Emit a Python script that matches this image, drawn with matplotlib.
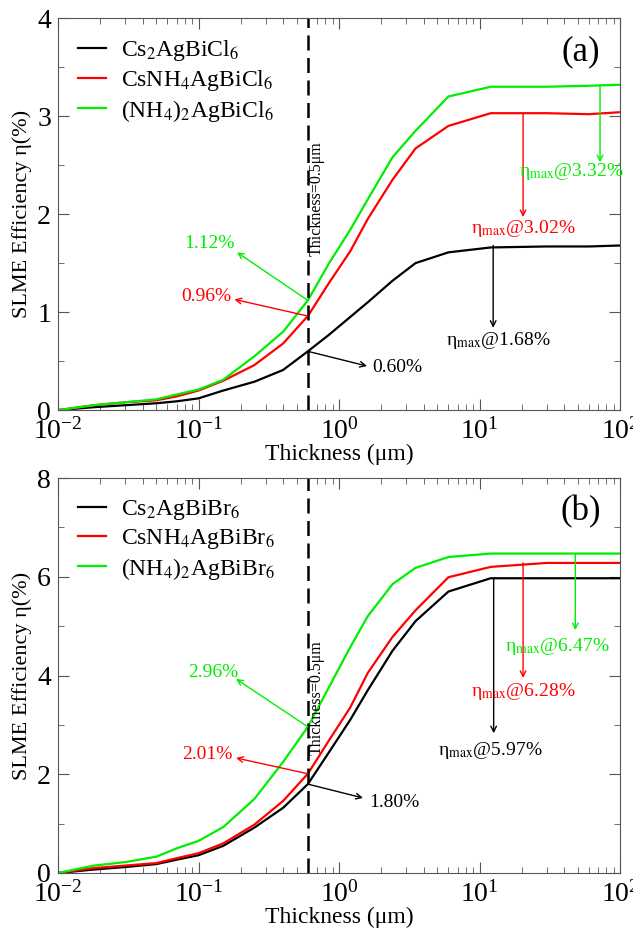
import matplotlib
matplotlib.use("Agg")
import matplotlib.pyplot as plt
from matplotlib.ticker import MultipleLocator, LogLocator, NullFormatter

plt.rcParams['font.family'] = ['Liberation Serif', 'DejaVu Serif']
plt.rcParams['mathtext.fontset'] = 'stix'

# thickness (um), same grid for every curve
thick = [0.01, 0.018, 0.03, 0.05, 0.07, 0.1, 0.15, 0.25, 0.4, 0.6,
         0.85, 1.2, 1.6, 2.4, 3.5, 6, 12, 30, 60, 100]

# panel (a): chlorides
cl_names = ['Cs$_2$AgBiCl$_6$', 'CsNH$_4$AgBiCl$_6$', '(NH$_4$)$_2$AgBiCl$_6$']
cl_cs = [0, 0.03, 0.05, 0.07, 0.09, 0.12, 0.2, 0.29, 0.41, 0.60,
         0.77, 0.95, 1.1, 1.32, 1.5, 1.61, 1.66, 1.67, 1.67, 1.68]
cl_mix = [0, 0.05, 0.08, 0.1, 0.14, 0.2, 0.3, 0.46, 0.68, 0.96,
          1.30, 1.62, 1.95, 2.35, 2.67, 2.9, 3.03, 3.03, 3.02, 3.04]
cl_nh4 = [0, 0.05, 0.08, 0.11, 0.16, 0.21, 0.31, 0.55, 0.8, 1.12,
          1.5, 1.84, 2.15, 2.58, 2.85, 3.2, 3.30, 3.30, 3.31, 3.32]

# panel (b): bromides
br_names = ['Cs$_2$AgBiBr$_6$', 'CsNH$_4$AgBiBr$_6$', '(NH$_4$)$_2$AgBiBr$_6$']
br_cs = [0, 0.07, 0.12, 0.18, 0.27, 0.36, 0.55, 0.92, 1.32, 1.80,
         2.45, 3.1, 3.7, 4.5, 5.1, 5.7, 5.97, 5.97, 5.97, 5.97]
br_mix = [0, 0.1, 0.15, 0.2, 0.3, 0.4, 0.6, 0.98, 1.46, 2.01,
          2.69, 3.35, 4.05, 4.78, 5.32, 5.99, 6.2, 6.28, 6.28, 6.28]
br_nh4 = [0, 0.15, 0.22, 0.33, 0.5, 0.65, 0.93, 1.5, 2.25, 2.96,
          3.77, 4.57, 5.2, 5.85, 6.18, 6.4, 6.47, 6.47, 6.47, 6.47]

colors = ['black', 'red', '#00ee00']
cut = 0.6


def draw_panel(ax, series, names, ymax, ystep, tag, cut_vals, cut_text, cut_head,
               max_vals, max_x, max_head, max_text, cs_text, cs_head, vtext_y):
	for y, c, n in zip(series, colors, names):
		ax.plot(thick, y, color=c, lw=1.6, label=n)
	ax.axvline(cut, color='black', ls=(0, (6, 3)), lw=1.8)
	ax.text(0.69, vtext_y, 'Thickness=0.5μm', rotation=90, fontsize=11.5,
	        ha='center', va='center')

	# arrows to the values at the cut
	for i in (2, 1):
		ax.annotate('', xy=cut_head[i], xytext=(cut, cut_vals[i]),
		            arrowprops=dict(arrowstyle='->', color=colors[i], lw=1,
		                            shrinkA=0, shrinkB=0))
		ax.text(cut_text[i][0], cut_text[i][1], '%.2f%%' % cut_vals[i],
		        color=colors[i], fontsize=14, ha='center', va='center')
	ax.annotate('', xy=cs_head, xytext=(cut, cut_vals[0]),
	            arrowprops=dict(arrowstyle='->', color='black', lw=1,
	                            shrinkA=0, shrinkB=0))
	ax.text(cs_text[0], cs_text[1], '%.2f%%' % cut_vals[0], fontsize=14,
	        ha='left', va='center')

	# eta max arrows
	for i in range(3):
		ax.annotate('', xy=(max_x[i], max_head[i]), xytext=(max_x[i], max_vals[i]),
		            arrowprops=dict(arrowstyle='->', color=colors[i], lw=1,
		                            shrinkA=0, shrinkB=0))
		ax.text(max_text[i][0], max_text[i][1],
		        'η$_{\\rm max}$@%.2f%%' % max_vals[i], color=colors[i],
		        fontsize=14, ha='center', va='center')

	ax.set_xscale('log')
	ax.set_xlim(0.01, 100)
	ax.set_ylim(0, ymax)
	ax.yaxis.set_major_locator(MultipleLocator(ystep))
	ax.yaxis.set_minor_locator(MultipleLocator(ystep / 2))
	ax.xaxis.set_major_locator(LogLocator(base=10, numticks=10))
	ax.xaxis.set_minor_locator(LogLocator(base=10, subs=range(2, 10), numticks=10))
	ax.xaxis.set_minor_formatter(NullFormatter())
	ax.tick_params(which='both', direction='in', top=True, right=True,
	               labelsize=20, color='#555555')
	ax.tick_params(axis='x', which='major', pad=6)
	ax.tick_params(axis='y', which='major', pad=5)
	ax.tick_params(which='major', length=8)
	ax.tick_params(which='minor', length=4)
	for s in ax.spines.values():
		s.set_color('#555555')
	ax.set_xlabel('Thickness (μm)', fontsize=17, labelpad=-1)
	ax.set_ylabel('SLME Efficiency η(%)', fontsize=16, labelpad=4)
	ax.text(0.93, 0.915, tag, transform=ax.transAxes, fontsize=25,
	        ha='center', va='center')
	ax.legend(loc='upper left', frameon=False, fontsize=17, handlelength=1.2,
	          labelspacing=0.2, borderaxespad=0.45, handletextpad=0.6)


fig = plt.figure(figsize=(6.33, 9.3), dpi=100)
ax1 = fig.add_axes([0.0916, 0.559, 0.888, 0.4215])
ax2 = fig.add_axes([0.0916, 0.0613, 0.888, 0.4247])

draw_panel(ax1, [cl_cs, cl_mix, cl_nh4], cl_names, 4, 1, '(a)',
           cut_vals=[0.60, 0.96, 1.12],
           cut_text=[None, (0.113, 1.16), (0.12, 1.70)],
           cut_head=[None, (0.18, 1.13), (0.188, 1.61)],
           max_vals=[1.68, 3.02, 3.32], max_x=[12.5, 20.4, 72],
           max_head=[0.84, 1.97, 2.53],
           max_text=[(13.5, 0.71), (20.4, 1.85), (45, 2.43)],
           cs_text=(1.72, 0.44), cs_head=(1.58, 0.45), vtext_y=2.16)

draw_panel(ax2, [br_cs, br_mix, br_nh4], br_names, 8, 2, '(b)',
           cut_vals=[1.80, 2.01, 2.96],
           cut_text=[None, (0.115, 2.39), (0.127, 4.07)],
           cut_head=[None, (0.185, 2.33), (0.185, 3.93)],
           max_vals=[5.97, 6.28, 6.47], max_x=[12.6, 20.4, 48],
           max_head=[2.83, 3.95, 4.92],
           max_text=[(12.0, 2.49), (20.4, 3.67), (36, 4.58)],
           cs_text=(1.64, 1.42), cs_head=(1.48, 1.52), vtext_y=3.56)

fig.savefig('out.png', dpi=100)
